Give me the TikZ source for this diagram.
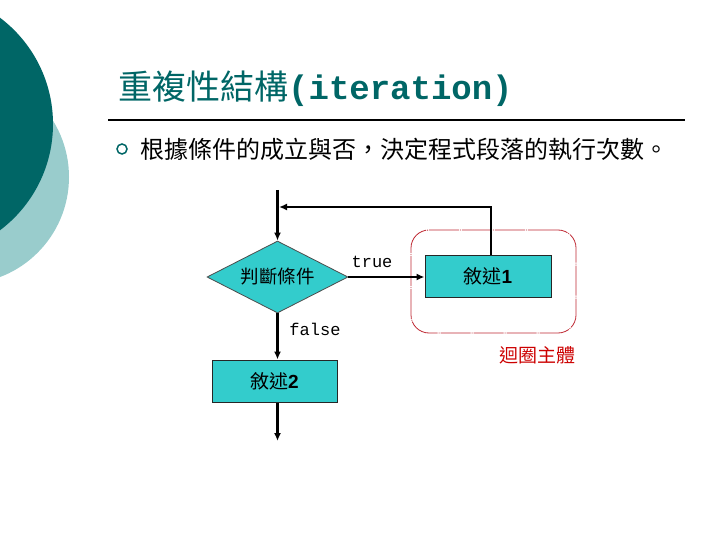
\documentclass[tikz,border=0pt]{standalone}
\usepackage{fontspec}
\setmainfont{Liberation Sans}
\newfontfamily\cjk{Noto Sans CJK TC}
\newfontfamily\mono{Liberation Mono}
\usetikzlibrary{shapes.geometric,arrows.meta}
\definecolor{darkteal}{RGB}{0,102,102}
\definecolor{lightteal}{RGB}{153,204,204}
\definecolor{boxfill}{RGB}{51,204,204}
\definecolor{loopred}{RGB}{190,40,50}
\definecolor{labelred}{RGB}{204,0,0}
\tikzset{
  flowbox/.style={draw=black!85, line width=1pt, fill=boxfill, inner sep=0pt,
    minimum width=126pt, minimum height=42pt, font=\fontsize{19}{22}\selectfont},
  decision/.style={diamond, draw=black!70, line width=0.8pt, fill=boxfill, inner sep=0pt,
    minimum width=141pt, minimum height=72pt, aspect=1.96, font=\cjk\fontsize{18.5}{22}\selectfont},
  flowarrow/.style={line width=2.5pt, -{Latex[length=8pt,width=7pt]}},
  thinline/.style={line width=1.2pt},
  condlabel/.style={font=\mono\fontsize{17}{20}\selectfont, inner sep=0pt},
  loopframe/.style={draw=loopred, line width=0.8pt, rounded corners=18pt,
    dash pattern=on 30pt off 1pt on 1pt off 1pt, inner sep=0pt,
    minimum width=165pt, minimum height=103pt}
}
\begin{document}
\begin{tikzpicture}[x=1pt,y=-1pt]
\useasboundingbox (0,0) rectangle (720,540);
\begin{scope}
\clip (0,0) rectangle (720,540);
\fill[lightteal] (-38,177) circle (107);
\fill[darkteal] (-80,124) circle (133);
\end{scope}
% title
\node[anchor=base west, inner sep=0pt, text=darkteal] (title) at (118,100)
  {{\cjk\fontsize{34}{40}\selectfont 重複性結構}{\mono\bfseries\fontsize{34}{40}\selectfont (iteration)}};
\draw[line width=2pt] (108,120) -- (685,120);
% bullet
\node[circle, draw=darkteal, line width=1.5pt, minimum size=10pt, inner sep=0pt] (bul) at (122,149) {};
\node[anchor=west, inner sep=0pt, font=\cjk\fontsize{24}{28}\selectfont] (line1) at (140,149)
  {根據條件的成立與否，決定程式段落的執行次數。};
% flowchart
\node[loopframe] (frame) at (493.5,281.5) {};
\node[decision] (dia) at (277.5,277) {判斷條件};
\node[flowbox] (b1) at (488,276) {{\cjk 敘述}\textbf{1}};
\node[flowbox, minimum width=125pt] (b2) at (274.5,381) {{\cjk 敘述}\textbf{2}};
\coordinate (start) at (277.5,190);
\coordinate (lp) at (491,207);
\coordinate (mid) at (448,207);
\coordinate (entry) at (279,207);
\coordinate (end) at (277.5,441);
\draw[flowarrow] (start) -- (dia.north);
\draw[flowarrow] (dia.east) -- (b1.west |- dia.east);
\draw[flowarrow] (dia.south) -- (dia.south |- b2.north);
\draw[flowarrow] (dia.south |- b2.south) -- (end);
\draw[thinline] (b1.north -| lp) -- (lp) -- (mid);
\draw[flowarrow] (mid) -- (entry);
\node[condlabel] (t) at (372,262) {true};
\node[condlabel] (f) at (315,329) {false};
\node[inner sep=0pt, text=labelred, font=\cjk\fontsize{19}{22}\selectfont] (lbl) at (537,355) {迴圈主體};
\end{tikzpicture}
\end{document}
